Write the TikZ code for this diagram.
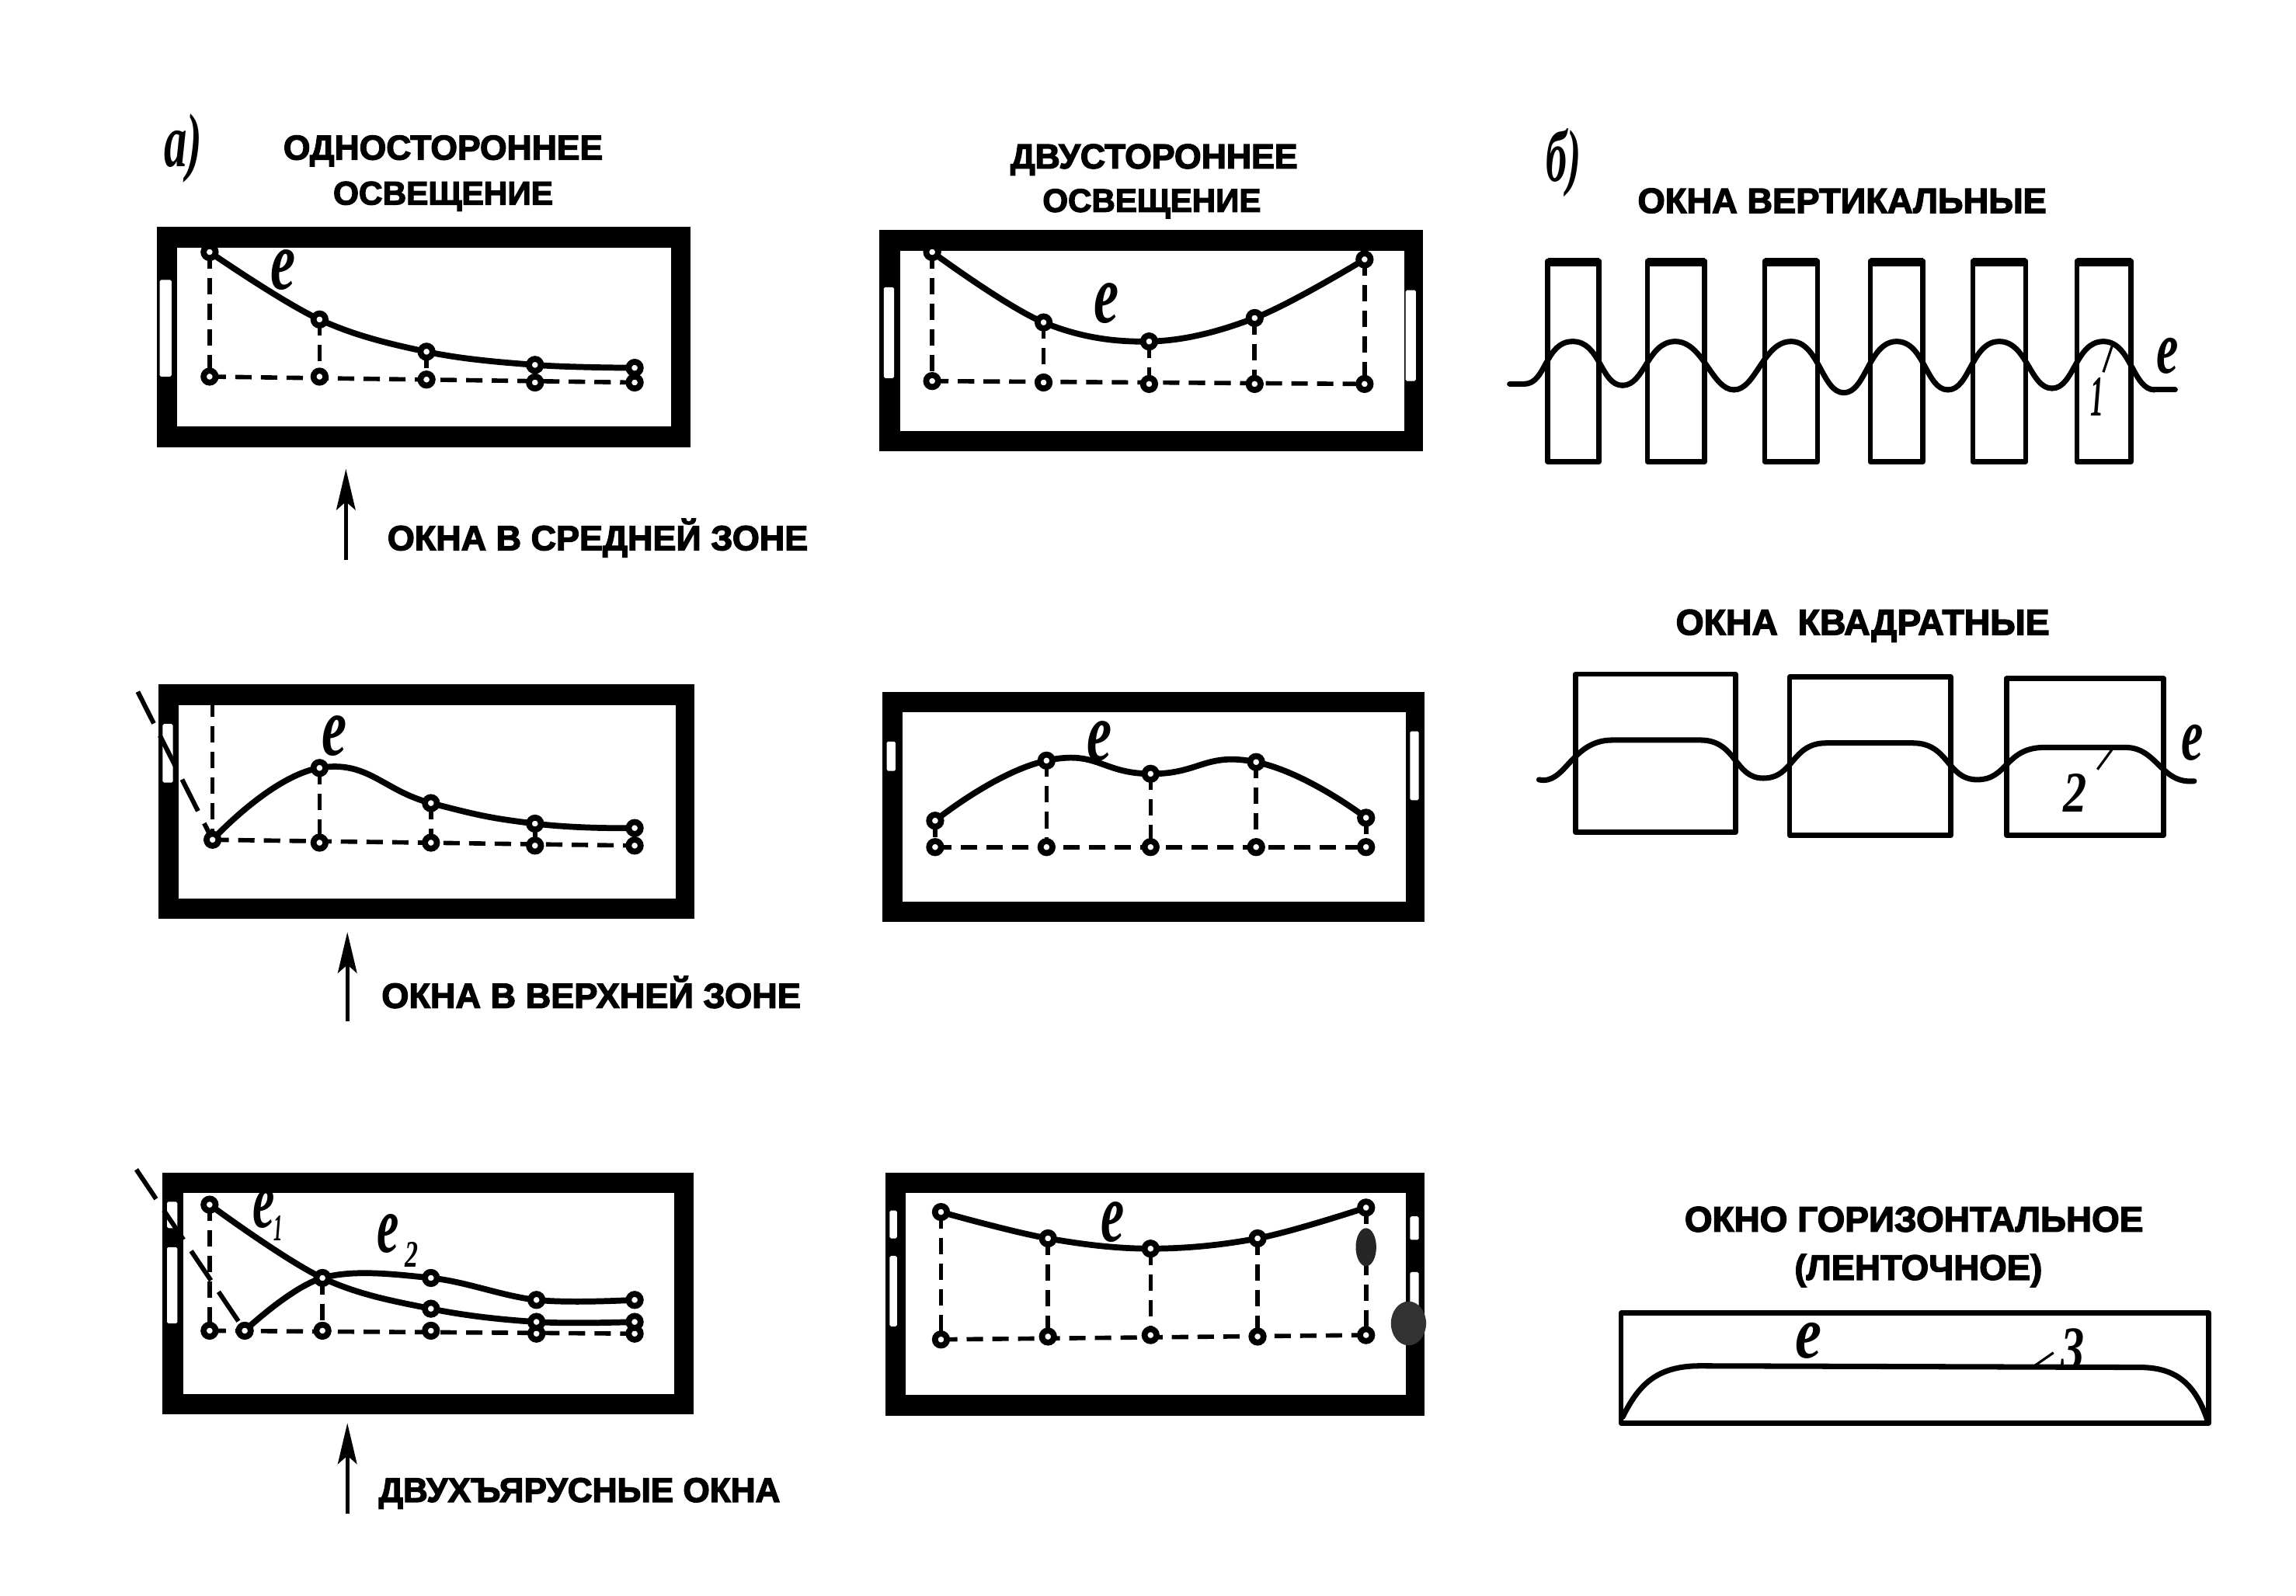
\documentclass[tikz,border=0pt]{standalone}
\usepackage{fontspec}
\usepackage{graphicx}
\setmainfont{Liberation Sans}
\newfontfamily\hd{Liberation Sans Bold}[FakeBold=3]
\newfontfamily\itl{Liberation Serif Bold Italic}
\usetikzlibrary{arrows.meta,backgrounds}
\pgfdeclarelayer{wl}
\pgfdeclarelayer{ln}
\pgfsetlayers{wl,ln,main}
\def\dsp{0.5369pt}
\newcommand\ttl[5]{% name, x1, x2, y, text
  \pgfmathsetlengthmacro\mywd{(#3-#2)*\dsp}
  \node[inner sep=0,anchor=west] (#1) at (#2,#4) {\resizebox{\mywd}{!}{\hd #5}};}
\newcommand\ita[6]{% name, x, y, w, h, text
  \pgfmathsetlengthmacro\mywd{#4*\dsp}
  \pgfmathsetlengthmacro\myht{#5*\dsp}
  \node[inner sep=0] (#1) at (#2,#3) {\resizebox{\mywd}{\myht}{\itl #6}};}
\newcommand\room[4]{%
  \begin{pgfonlayer}{wl}
  \fill[black] (#1,#2) rectangle (#3,#4);
  \fill[white] (#1+14,#2+14) rectangle (#3-13,#4-14);
  \end{pgfonlayer}}
\newcommand\slit[4]{%
  \begin{pgfonlayer}{wl}
  \fill[white,rounded corners=0.5pt] (#1,#2) rectangle (#3,#4);
  \end{pgfonlayer}}
\newcommand\pts[2]{\foreach \x/\y [count=\i] in {#2} {\node[pt] (#1\i) at (\x,\y) {};}}
\tikzset{
  x=0.01887cm,y=-0.01887cm,
  pt/.style={circle,fill=white,draw=black,line width=2.2pt,inner sep=0pt,minimum size=4.4pt},
  curve/.style={line width=2.2pt,line cap=round,line join=round},
  dsh/.style={line width=1.6pt,dash pattern=on 6pt off 3.4pt},
  slash/.style={line width=1.7pt,dash pattern=on 13pt off 5pt},
  arw/.style={line width=1.4pt,-{Stealth[length=15pt,width=7pt,inset=3pt]}},
  win/.style={line width=1.9pt,line join=round},
  ecurve/.style={line width=2pt,line cap=round},
  lead/.style={line width=0.9pt}
}
\begin{document}
\begin{tikzpicture}
\useasboundingbox (0,0) rectangle (1566.5,1088.5);
\begin{pgfonlayer}{wl}
\fill[white] (0,0) rectangle (1566.5,1088.5);
\end{pgfonlayer}

% ---------- headings
\ita{la}{125}{101}{26}{36}{а)}
\ita{lb}{1067}{111}{24}{36}{б)}
\ttl{h1}{193}{411}{103}{ОДНОСТОРОННЕЕ}
\ttl{h2}{227}{377}{134}{ОСВЕЩЕНИЕ}
\ttl{h3}{689}{885}{109}{ДВУСТОРОННЕЕ}
\ttl{h4}{711}{860}{139}{ОСВЕЩЕНИЕ}
\ttl{h5}{1117}{1396}{137}{ОКНА ВЕРТИКАЛЬНЫЕ}
\ttl{h6}{1143}{1398}{427}{ОКНА \ КВАДРАТНЫЕ}
\ttl{h7}{1149}{1462}{832}{ОКНО ГОРИЗОНТАЛЬНОЕ}
\ttl{h8}{1224}{1393}{867}{(ЛЕНТОЧНОЕ)}
\ttl{z1}{264}{551}{367}{ОКНА В СРЕДНЕЙ ЗОНЕ}
\ttl{z2}{260}{546}{677}{ОКНА В ВЕРХНЕЙ ЗОНЕ}
\ttl{z3}{258}{532}{1019}{ДВУХЪЯРУСНЫЕ ОКНА}

% ---------- arrows
\coordinate (ar1a) at (236,382); \coordinate (ar1b) at (236,320);
\coordinate (ar2a) at (237,697); \coordinate (ar2b) at (237,636);
\coordinate (ar3a) at (237,1033); \coordinate (ar3b) at (237,971);
\draw[arw] (ar1a) -- (ar1b);
\draw[arw] (ar2a) -- (ar2b);
\draw[arw] (ar3a) -- (ar3b);

% ---------- panel A1
\room{107}{155}{471}{305}
\slit{109}{191}{117}{257}
\pts{At}{143/172,218/218,291/240,365/249,433/251}
\pts{Ab}{143/257,218/257,291/259,365/261,433/261}
\begin{pgfonlayer}{ln}
\draw[curve] plot[smooth,tension=.6] coordinates {(At1.center)(At2.center)(At3.center)(At4.center)(At5.center)};
\draw[dsh] (Ab1.center)--(Ab5.center);
\foreach \i in {1,...,5} \draw[dsh] (At\i.center)--(Ab\i.center);
\end{pgfonlayer}
\ita{eA}{193}{184}{17}{27}{e}

% ---------- panel A2
\room{108}{467}{474}{627}
\slit{111}{494}{118}{534}
\pts{Bb}{145/573,218/575,294/575,365/577,433/577}
\pts{Bt}{218/524,294/548,365/562,433/565}
\coordinate (Btop) at (145,478);
\coordinate (Bsl) at (94,472);
\begin{pgfonlayer}{ln}
\draw[curve] plot[smooth,tension=.8] coordinates {(Bb1.center)(Bt1.center)(Bt2.center)(Bt3.center)(Bt4.center)};
\draw[dsh] (Bb1.center)--(Bb5.center);
\draw[dsh] (Btop)--(Bb1.center);
\foreach \i/\j in {1/2,2/3,3/4,4/5} \draw[dsh] (Bt\i.center)--(Bb\j.center);
\draw[slash] (Bsl)--(Bb1.center);
\end{pgfonlayer}
\ita{eB}{228}{502}{17}{27}{e}

% ---------- panel A3
\room{111}{800}{473}{965}
\slit{114}{820}{121}{838}
\slit{114}{851}{121}{903}
\pts{Cb}{143/908,167/908,220/908,294/908,366/910,433/910}
\pts{Cu}{143/822,220/872,294/893,366/902,433/902}
\pts{Cv}{294/872,366/887,433/887}
\coordinate (Csl) at (93,798);
\begin{pgfonlayer}{ln}
\draw[curve] plot[smooth,tension=.6] coordinates {(Cu1.center)(Cu2.center)(Cu3.center)(Cu4.center)(Cu5.center)};
\draw[curve] plot[smooth,tension=.6] coordinates {(Cb2.center)(Cu2.center)(Cv1.center)(Cv2.center)(Cv3.center)};
\draw[dsh] (Cb1.center)--(Cb6.center);
\draw[dsh] (Cu1.center)--(Cb1.center);
\draw[dsh] (Cu2.center)--(Cb3.center);
\draw[slash] (Csl)--(Cb2.center);
\end{pgfonlayer}
\ita{eC}{180}{825}{15}{26}{e}
\ita{sC}{190}{838}{6}{17}{1}
\ita{eD}{265}{842}{15}{26}{e}
\ita{sD}{281}{856}{9}{17}{2}

% ---------- panel B1
\room{600}{157}{971}{308}
\slit{603}{196}{610}{258}
\slit{959}{198}{966}{260}
\pts{Dt}{636/172,712/220,784/233,856/217,931/177}
\pts{Db}{636/260,712/261,784/262,856/262,931/262}
\begin{pgfonlayer}{ln}
\draw[curve] plot[smooth,tension=.6] coordinates {(Dt1.center)(Dt2.center)(Dt3.center)(Dt4.center)(Dt5.center)};
\draw[dsh] (Db1.center)--(Db5.center);
\foreach \i in {1,...,5} \draw[dsh] (Dt\i.center)--(Db\i.center);
\end{pgfonlayer}
\ita{eE}{755}{207}{17}{27}{e}

% ---------- panel B2
\room{602}{472}{972}{629}
\slit{605}{506}{611}{526}
\slit{962}{499}{968}{546}
\pts{Et}{638/560,714/519,785/528,857/520,932/558}
\pts{Eb}{638/578,714/578,785/578,857/578,932/578}
\begin{pgfonlayer}{ln}
\draw[curve] plot[smooth,tension=.85] coordinates {(Et1.center)(Et2.center)(Et3.center)(Et4.center)(Et5.center)};
\draw[dsh] (Eb1.center)--(Eb5.center);
\foreach \i in {1,...,5} \draw[dsh] (Et\i.center)--(Eb\i.center);
\end{pgfonlayer}
\ita{eF}{750}{506}{17}{27}{e}

% ---------- panel B3
\room{604}{800}{972}{966}
\slit{607}{826}{612}{845}
\slit{607}{857}{612}{905}
\slit{962}{830}{968}{846}
\slit{962}{868}{968}{900}
\pts{Ft}{642/827,715/845,785/852,858/845,932/824}
\pts{Fb}{642/914,715/912,785/911,858/912,932/911}
\begin{pgfonlayer}{ln}
\draw[curve] plot[smooth,tension=.6] coordinates {(Ft1.center)(Ft2.center)(Ft3.center)(Ft4.center)(Ft5.center)};
\draw[dsh] (Fb1.center)--(Fb5.center);
\foreach \i in {1,...,5} \draw[dsh] (Ft\i.center)--(Fb\i.center);
\end{pgfonlayer}
\ita{eG}{759}{834}{16}{27}{e}
\fill[black!85] (932,851) ellipse (7 and 13);
\fill[black!80] (961,903) ellipse (12 and 15);

% ---------- vertical windows
\foreach \a/\b in {1056/1091,1124/1163,1204/1240,1276/1312,1346/1382,1417/1454}{
  \draw[win] (\a,178) rectangle (\b,315);
  \draw[win,line width=3pt] (\a,179) -- (\b,179);
}
\coordinate (v0) at (1030,262);
\coordinate (v1) at (1040,262);
\coordinate (v7) at (1484,266);
\foreach \c/\tx/\ty/\nx/\ny in {1073/1040/262/1107/263,1143/1107/263/1183/266,1222/1183/266/1258/268,1294/1258/268/1329/266,1364/1329/266/1400/265,1435/1400/265/1470/266}{
  \draw[ecurve] (\tx,\ty) .. controls (\tx+15,\ty) and (\c-19,233) .. (\c,233) .. controls (\c+19,233) and (\nx-15,\ny) .. (\nx,\ny);
}
\draw[ecurve] (v0)--(v1);
\draw[ecurve] (1470,266)--(v7);
\ita{eV}{1479}{243}{15}{24}{e}
\ita{n1}{1431}{271}{9}{26}{1}
\coordinate (n1a) at (1441,236); \coordinate (n1b) at (1435,254);
\draw[lead] (n1a)--(n1b);

% ---------- square windows
\draw[win] (1075,460) rectangle (1184,568);
\draw[win] (1221,462) rectangle (1331,570);
\draw[win] (1369,463) rectangle (1476,570);
\coordinate (s0) at (1050,532);
\coordinate (s1) at (1497,533);
\draw[ecurve] (s0) .. controls (1068,536) and (1072,505) .. (1100,505) -- (1160,505)
  .. controls (1185,505) and (1183,531) .. (1203,531) .. controls (1224,531) and (1222,507) .. (1246,507)
  -- (1305,507) .. controls (1330,507) and (1328,532) .. (1349,532) .. controls (1370,532) and (1368,510) .. (1395,510)
  -- (1450,510) .. controls (1472,510) and (1474,535) .. (s1);
\ita{eS}{1496}{507}{15}{24}{e}
\ita{n2}{1416}{541}{16}{26}{2}
\coordinate (n2a) at (1442,510); \coordinate (n2b) at (1431,525);
\draw[lead] (n2a)--(n2b);

% ---------- horizontal window
\draw[win] (1106,896) rectangle (1507,971);
\coordinate (g0) at (1107,967);
\coordinate (g1) at (1506,969);
\draw[ecurve] (g0) .. controls (1118,945) and (1130,932) .. (1160,932) -- (1460,933) .. controls (1485,933) and (1498,945) .. (g1);
\ita{eH}{1234}{915}{18}{24}{e}
\ita{n3}{1414}{921}{16}{28}{3}
\coordinate (n3a) at (1388,932); \coordinate (n3b) at (1401,923);
\draw[lead] (n3a)--(n3b);
\end{tikzpicture}
\end{document}
